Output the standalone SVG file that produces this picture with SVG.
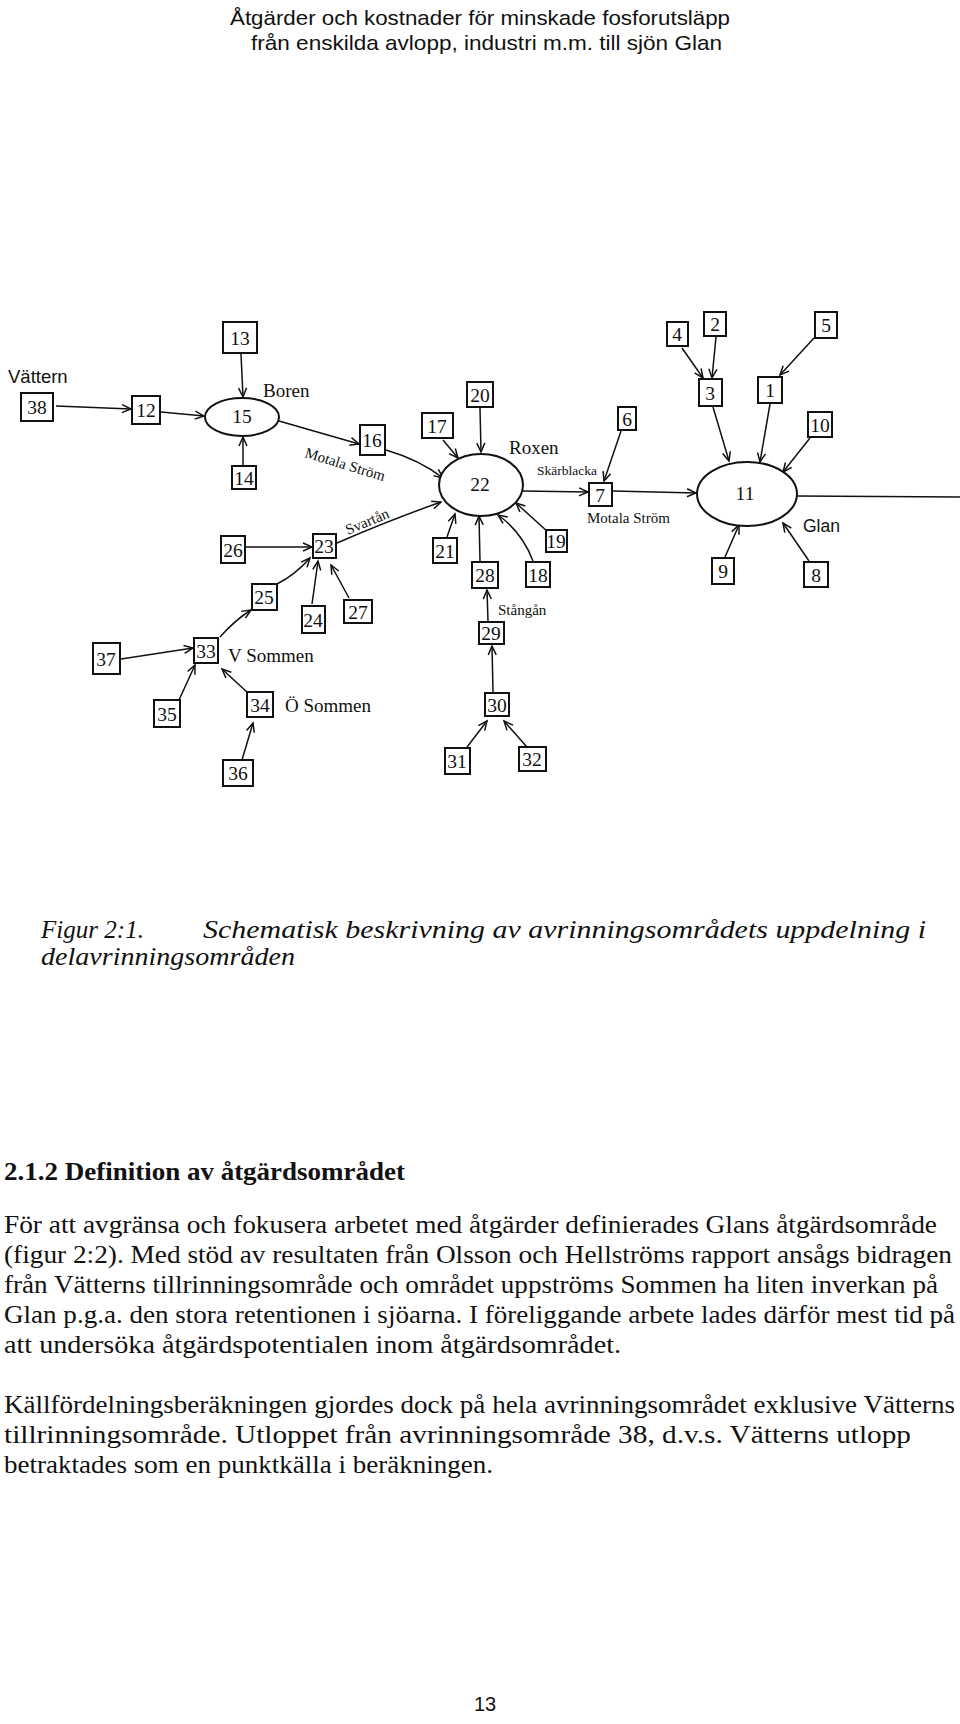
<svg xmlns="http://www.w3.org/2000/svg" width="960" height="1724" viewBox="0 0 960 1724">
<style>
.bx{fill:#fff;stroke:#111;stroke-width:2}
.el{fill:#fff;stroke:#111;stroke-width:2}
.n{font-family:"Liberation Serif",serif;font-size:19.5px;text-anchor:middle;fill:#111}
.lb{font-family:"Liberation Serif",serif;fill:#111}
.ls{font-family:"Liberation Sans",Arial,sans-serif;fill:#111}
.c{fill:none;stroke:#111;stroke-width:1.5;marker-end:url(#ah)}
.p{fill:none;stroke:#111;stroke-width:1.5}
.hd{font-family:"Liberation Sans",Arial,sans-serif;font-size:21px;fill:#111}
.bd{font-family:"Liberation Serif","Times New Roman",serif;font-size:26px;fill:#111}
.cap{font-family:"Liberation Serif","Times New Roman",serif;font-size:26px;font-style:italic;fill:#111}
</style>
<defs>
<marker id="ah" markerUnits="userSpaceOnUse" markerWidth="12" markerHeight="10" refX="10" refY="5" orient="auto" viewBox="0 0 12 10">
<path d="M1,1 L10,5 L1,9" fill="none" stroke="#111" stroke-width="1.5"/>
</marker>
</defs>
<rect width="960" height="1724" fill="#fff"/>

<g id="header">
<text class="hd" x="230" y="25" textLength="500" lengthAdjust="spacingAndGlyphs">Åtgärder och kostnader för minskade fosforutsläpp</text>
<text class="hd" x="251" y="50" textLength="471" lengthAdjust="spacingAndGlyphs">från enskilda avlopp, industri m.m. till sjön Glan</text>
</g>

<g id="connectors">
<path class="c" d="M56,406 L131,409"/>
<path class="c" d="M161,412 L204,416"/>
<path class="c" d="M241,354 L243,397"/>
<path class="c" d="M243,465 L243,437"/>
<path class="c" d="M279,421 L359,444"/>
<path class="c" d="M386,450 Q420,460 443,478"/>
<path class="c" d="M443,440 L458,458"/>
<path class="c" d="M480,408 L481,452"/>
<path class="c" d="M447,537 L455,514"/>
<path class="c" d="M480,561 L479,516"/>
<path class="c" d="M533,561 Q522,532 498,515"/>
<path class="c" d="M548,532 L516,503"/>
<path class="c" d="M523,491 L588,492"/>
<path class="c" d="M621,431 L604,481"/>
<path class="c" d="M613,491 L696,493"/>
<path class="c" d="M682,348 L703,378"/>
<path class="c" d="M716,337 L712,378"/>
<path class="c" d="M713,407 L729,461"/>
<path class="c" d="M814,338 L780,375"/>
<path class="c" d="M770,404 L760,462"/>
<path class="c" d="M810,438 L783,472"/>
<path class="c" d="M725,557 L739,525"/>
<path class="c" d="M809,561 L783,523"/>
<path class="p" d="M797,496 L960,497"/>
<path class="c" d="M246,547 L312,547"/>
<path class="c" d="M277,584 Q295,575 310,558"/>
<path class="c" d="M312,604 L318,561"/>
<path class="c" d="M349,598 L331,565"/>
<path class="c" d="M337,543 Q390,520 441,502"/>
<path class="c" d="M220,637 Q235,620 251,610"/>
<path class="c" d="M121,659 L193,648"/>
<path class="c" d="M179,700 L195,665"/>
<path class="c" d="M248,693 L222,669"/>
<path class="c" d="M242,760 L253,723"/>
<path class="c" d="M488,621 L487,590"/>
<path class="c" d="M493,692 L492,646"/>
<path class="c" d="M467,747 L487,721"/>
<path class="c" d="M527,747 L504,721"/>
</g>

<g id="n38"><rect class="bx" x="21" y="393" width="32" height="28"/><text class="n" x="37" y="414">38</text></g>
<g id="n12"><rect class="bx" x="132" y="396" width="28" height="28"/><text class="n" x="146" y="417">12</text></g>
<g id="n13"><rect class="bx" x="223" y="322" width="34" height="31"/><text class="n" x="240" y="345">13</text></g>
<g id="n14"><rect class="bx" x="232" y="466" width="24" height="23"/><text class="n" x="244" y="485">14</text></g>
<g id="n15"><ellipse class="el" cx="242" cy="417" rx="37" ry="19"/><text class="n" x="242" y="423">15</text></g>
<g id="n16"><rect class="bx" x="360" y="425" width="25" height="30"/><text class="n" x="372" y="447">16</text></g>
<g id="n17"><rect class="bx" x="422" y="413" width="31" height="25"/><text class="n" x="437" y="433">17</text></g>
<g id="n20"><rect class="bx" x="467" y="382" width="26" height="25"/><text class="n" x="480" y="402">20</text></g>
<g id="n22"><ellipse class="el" cx="481" cy="485" rx="42" ry="31"/><text class="n" x="480" y="491">22</text></g>
<g id="n21"><rect class="bx" x="433" y="538" width="24" height="25"/><text class="n" x="445" y="558">21</text></g>
<g id="n28"><rect class="bx" x="472" y="562" width="26" height="26"/><text class="n" x="485" y="582">28</text></g>
<g id="n18"><rect class="bx" x="526" y="562" width="24" height="25"/><text class="n" x="538" y="582">18</text></g>
<g id="n19"><rect class="bx" x="546" y="530" width="21" height="22"/><text class="n" x="556" y="548">19</text></g>
<g id="n29"><rect class="bx" x="479" y="622" width="25" height="22"/><text class="n" x="491" y="640">29</text></g>
<g id="n30"><rect class="bx" x="485" y="693" width="24" height="23"/><text class="n" x="497" y="712">30</text></g>
<g id="n31"><rect class="bx" x="445" y="748" width="25" height="26"/><text class="n" x="457" y="768">31</text></g>
<g id="n32"><rect class="bx" x="519" y="747" width="27" height="24"/><text class="n" x="532" y="766">32</text></g>
<g id="n23"><rect class="bx" x="313" y="534" width="23" height="24"/><text class="n" x="324" y="553">23</text></g>
<g id="n26"><rect class="bx" x="221" y="536" width="24" height="27"/><text class="n" x="233" y="557">26</text></g>
<g id="n25"><rect class="bx" x="252" y="584" width="25" height="26"/><text class="n" x="264" y="604">25</text></g>
<g id="n24"><rect class="bx" x="302" y="606" width="23" height="27"/><text class="n" x="313" y="627">24</text></g>
<g id="n27"><rect class="bx" x="344" y="600" width="28" height="23"/><text class="n" x="358" y="619">27</text></g>
<g id="n33"><rect class="bx" x="194" y="638" width="24" height="25"/><text class="n" x="206" y="658">33</text></g>
<g id="n37"><rect class="bx" x="93" y="643" width="27" height="31"/><text class="n" x="106" y="666">37</text></g>
<g id="n35"><rect class="bx" x="154" y="700" width="26" height="27"/><text class="n" x="167" y="721">35</text></g>
<g id="n34"><rect class="bx" x="247" y="692" width="26" height="25"/><text class="n" x="260" y="712">34</text></g>
<g id="n36"><rect class="bx" x="223" y="760" width="30" height="26"/><text class="n" x="238" y="780">36</text></g>
<g id="n7"><rect class="bx" x="589" y="483" width="23" height="23"/><text class="n" x="600" y="502">7</text></g>
<g id="n6"><rect class="bx" x="618" y="407" width="18" height="23"/><text class="n" x="627" y="426">6</text></g>
<g id="n11"><ellipse class="el" cx="747" cy="494" rx="50" ry="32"/><text class="n" x="745" y="500">11</text></g>
<g id="n3"><rect class="bx" x="699" y="379" width="23" height="27"/><text class="n" x="710" y="400">3</text></g>
<g id="n4"><rect class="bx" x="667" y="322" width="21" height="24"/><text class="n" x="677" y="341">4</text></g>
<g id="n2"><rect class="bx" x="704" y="312" width="22" height="24"/><text class="n" x="715" y="331">2</text></g>
<g id="n1"><rect class="bx" x="758" y="377" width="24" height="26"/><text class="n" x="770" y="397">1</text></g>
<g id="n5"><rect class="bx" x="815" y="312" width="22" height="26"/><text class="n" x="826" y="332">5</text></g>
<g id="n10"><rect class="bx" x="808" y="412" width="24" height="25"/><text class="n" x="820" y="432">10</text></g>
<g id="n9"><rect class="bx" x="712" y="558" width="22" height="26"/><text class="n" x="723" y="578">9</text></g>
<g id="n8"><rect class="bx" x="804" y="562" width="24" height="25"/><text class="n" x="816" y="582">8</text></g>

<g id="labels">
<text class="ls" x="8" y="383" font-size="18.5">Vättern</text>
<text class="lb" x="263" y="397" font-size="19">Boren</text>
<text class="lb" x="304" y="457" font-size="15" transform="rotate(17 304 457)">Motala Ström</text>
<text class="lb" x="348" y="535" font-size="15" transform="rotate(-23 348 535)">Svartån</text>
<text class="lb" x="509" y="454" font-size="19">Roxen</text>
<text class="lb" x="537" y="475" font-size="13.5">Skärblacka</text>
<text class="lb" x="587" y="523" font-size="15">Motala Ström</text>
<text class="ls" x="803" y="532" font-size="17.5">Glan</text>
<text class="lb" x="498" y="615" font-size="15">Stångån</text>
<text class="lb" x="228" y="662" font-size="19">V Sommen</text>
<text class="lb" x="285" y="712" font-size="19">Ö Sommen</text>
</g>

<g id="caption">
<text class="cap" x="41" y="938" textLength="103" lengthAdjust="spacingAndGlyphs">Figur 2:1.</text>
<text class="cap" x="203" y="938" textLength="723" lengthAdjust="spacingAndGlyphs">Schematisk beskrivning av avrinningsområdets uppdelning i</text>
<text class="cap" x="41" y="965" textLength="254" lengthAdjust="spacingAndGlyphs">delavrinningsområden</text>
</g>

<g id="body">
<text class="bd" x="4" y="1180" font-weight="bold" textLength="401" lengthAdjust="spacingAndGlyphs">2.1.2 Definition av åtgärdsområdet</text>
<text class="bd" x="4" y="1233" textLength="933" lengthAdjust="spacingAndGlyphs">För att avgränsa och fokusera arbetet med åtgärder definierades Glans åtgärdsområde</text>
<text class="bd" x="4" y="1263" textLength="948" lengthAdjust="spacingAndGlyphs">(figur 2:2). Med stöd av resultaten från Olsson och Hellströms rapport ansågs bidragen</text>
<text class="bd" x="4" y="1293" textLength="934" lengthAdjust="spacingAndGlyphs">från Vätterns tillrinningsområde och området uppströms Sommen ha liten inverkan på</text>
<text class="bd" x="4" y="1323" textLength="951" lengthAdjust="spacingAndGlyphs">Glan p.g.a. den stora retentionen i sjöarna. I föreliggande arbete lades därför mest tid på</text>
<text class="bd" x="4" y="1353" textLength="617" lengthAdjust="spacingAndGlyphs">att undersöka åtgärdspotentialen inom åtgärdsområdet.</text>
<text class="bd" x="4" y="1413" textLength="951" lengthAdjust="spacingAndGlyphs">Källfördelningsberäkningen gjordes dock på hela avrinningsområdet exklusive Vätterns</text>
<text class="bd" x="4" y="1443" textLength="907" lengthAdjust="spacingAndGlyphs">tillrinningsområde. Utloppet från avrinningsområde 38, d.v.s. Vätterns utlopp</text>
<text class="bd" x="4" y="1473" textLength="489" lengthAdjust="spacingAndGlyphs">betraktades som en punktkälla i beräkningen.</text>
</g>

<text class="ls" x="485" y="1711" font-size="20" text-anchor="middle">13</text>
</svg>
